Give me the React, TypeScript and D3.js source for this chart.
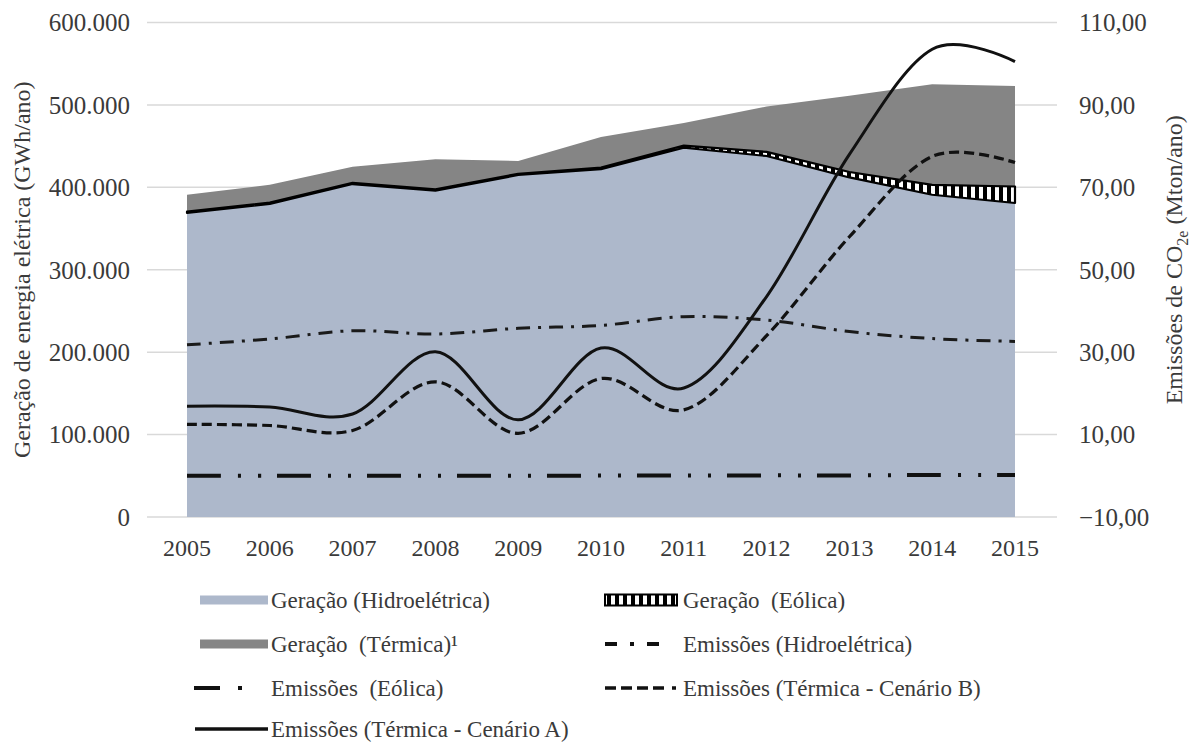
import React from "react";
import * as d3 from "d3";

const years = [2005, 2006, 2007, 2008, 2009, 2010, 2011, 2012, 2013, 2014, 2015];
// Geração (GWh/ano)
const genHidro = [369, 380, 404, 396, 415, 422, 448, 438, 412, 391, 381].map((v) => v * 1000);
const genEolica = [1.5, 1.5, 1.5, 1.5, 1.5, 2, 2.7, 5, 6.6, 12, 20].map((v) => v * 1000);
const genTermica = [20.5, 21.5, 19.5, 36.5, 15.5, 37, 27.3, 55, 92.4, 122, 122].map((v) => v * 1000);
// Emissões (Mton/ano)
const emiHidro = [31.8, 33.2, 35.2, 34.4, 35.8, 36.5, 38.6, 37.8, 35.0, 33.3, 32.6];
const emiEolica = [0.0, 0.0, 0.0, 0.0, 0.0, 0.05, 0.05, 0.1, 0.1, 0.2, 0.2];
const emiTermB = [12.5, 12.2, 11.0, 22.8, 10.3, 23.6, 16.0, 34.0, 58.0, 77.5, 76.0];
const emiTermA = [16.9, 16.7, 15.0, 30.1, 13.6, 31.0, 21.3, 43.5, 78.0, 103.5, 100.5];

const leftTicks = [0, 100000, 200000, 300000, 400000, 500000, 600000];
const rightTicks = [-10, 10, 30, 50, 70, 90, 110];

const leftTitle = "Geração de energia elétrica (GWh/ano)";
const legendItems = [
  { key: "gh", label: "Geração (Hidroelétrica)", col: 0, row: 0 },
  { key: "ge", label: "Geração  (Eólica)", col: 1, row: 0 },
  { key: "gt", label: "Geração  (Térmica)¹", col: 0, row: 1 },
  { key: "eh", label: "Emissões (Hidroelétrica)", col: 1, row: 1 },
  { key: "ee", label: "Emissões  (Eólica)", col: 0, row: 2 },
  { key: "eb", label: "Emissões (Térmica - Cenário B)", col: 1, row: 2 },
  { key: "ea", label: "Emissões (Térmica - Cenário A)", col: 0, row: 3 },
];

const HIDRO = "#adb8cb";
const TERM = "#858585";
const GRID = "#d9d9d9";
const TXT = "#3a3a3a";
const FONT = '"Liberation Serif", "DejaVu Serif", serif';

const DASH_HIDRO = "14 8 3 8";
const DASH_EOL = "34 17 3 17 3 16";
const DASH_B = "10 5";

export default function App() {
  const x = d3.scaleLinear().domain([2005, 2015]).range([187, 1015]);
  const yL = d3.scaleLinear().domain([0, 600000]).range([517, 22.5]);
  const yR = d3.scaleLinear().domain([-10, 110]).range([517, 22.5]);

  const rows = years.map((yr, i) => ({ year: yr, h: genHidro[i], e: genEolica[i], t: genTermica[i] }));
  const stack = d3.stack<any>().keys(["h", "e", "t"])(rows);
  const area = d3
    .area<any>()
    .x((d) => x(d.data.year))
    .y0((d) => yL(d[0]))
    .y1((d) => yL(d[1]));

  const line = (vals: number[]) =>
    d3
      .line<number>()
      .x((_, i) => x(years[i]))
      .y((v) => yR(v))
      .curve(d3.curveCardinal.tension(0))(vals) as string;

  const colX = [200, 605];
  const rowY = [600, 644, 688, 729];

  const legendSymbol = (key: string, x0: number, y0: number) => {
    switch (key) {
      case "gh":
        return <rect x={x0} y={y0 - 4.5} width={68} height={9} fill={HIDRO} />;
      case "gt":
        return <rect x={x0} y={y0 - 4.5} width={68} height={9} fill={TERM} />;
      case "ge":
        return (
          <rect x={x0} y={y0 - 5.5} width={72} height={11} fill="url(#eolPat)" stroke="#000" strokeWidth={2} />
        );
      case "eh":
        return (
          <line x1={x0} x2={x0 + 60} y1={y0} y2={y0} stroke="#111" strokeWidth={4} strokeDasharray="12 13 4 13" />
        );
      case "ee":
        return (
          <g>
            <line x1={x0 - 6} x2={x0 + 20} y1={y0} y2={y0} stroke="#111" strokeWidth={4} />
            <line x1={x0 + 38} x2={x0 + 42} y1={y0} y2={y0} stroke="#111" strokeWidth={4} />
          </g>
        );
      case "eb":
        return (
          <line x1={x0} x2={x0 + 76} y1={y0} y2={y0} stroke="#111" strokeWidth={3.5} strokeDasharray="11 5 11 5 11 5 11 8 4" />
        );
      case "ea":
        return <line x1={x0 - 5} x2={x0 + 68} y1={y0} y2={y0} stroke="#111" strokeWidth={3.5} />;
    }
    return null;
  };

  const textStyle: React.CSSProperties = { fontFamily: FONT };

  return (
    <svg
      width={1192}
      height={743}
      style={{ position: "absolute", left: 0, top: 0, background: "#fff", fontFamily: FONT }}
    >
      <defs>
        <pattern id="eolPat" patternUnits="userSpaceOnUse" width={8} height={10}>
          <rect x={0} y={0} width={8} height={10} fill="#000" />
          <rect x={3} y={0} width={4} height={10} fill="#fff" />
        </pattern>
      </defs>
      <rect x={0} y={0} width={1192} height={743} fill="#fff" />

      {/* gridlines */}
      {leftTicks.map((t) => (
        <line key={"g" + t} x1={147} x2={1057} y1={yL(t)} y2={yL(t)} stroke={GRID} strokeWidth={1.5} />
      ))}

      {/* stacked areas */}
      <path d={area(stack[0] as any) as string} fill={HIDRO} />
      <path d={area(stack[2] as any) as string} fill={TERM} />
      <path d={area(stack[1] as any) as string} fill="url(#eolPat)" stroke="#000" strokeWidth={2.2} strokeLinejoin="round" />

      {/* emission lines */}
      <path d={line(emiEolica)} fill="none" stroke="#111" strokeWidth={4} strokeDasharray={DASH_EOL} />
      <path d={line(emiHidro)} fill="none" stroke="#1a1a1a" strokeWidth={3} strokeDasharray={DASH_HIDRO} />
      <path d={line(emiTermB)} fill="none" stroke="#111" strokeWidth={3.2} strokeDasharray={DASH_B} />
      <path d={line(emiTermA)} fill="none" stroke="#111" strokeWidth={3} />

      {/* left tick labels */}
      {leftTicks.map((t) => (
        <text key={"l" + t} x={130} y={yL(t)} dy="0.35em" textAnchor="end" fontSize={25} fill={TXT} style={textStyle}>
          {d3.format(",")(t).replace(/,/g, ".")}
        </text>
      ))}
      {/* right tick labels */}
      {rightTicks.map((t) => (
        <text key={"r" + t} x={1079} y={yR(t)} dy="0.35em" textAnchor="start" fontSize={25} fill={TXT} style={textStyle}>
          {d3.format(".2f")(t).replace(".", ",")}
        </text>
      ))}
      {/* x tick labels */}
      {years.map((yr) => (
        <text key={"x" + yr} x={x(yr)} y={548} dy="0.35em" textAnchor="middle" fontSize={24} fill={TXT} style={textStyle}>
          {yr}
        </text>
      ))}

      {/* axis titles */}
      <text
        transform={`translate(22,${(22.5 + 517) / 2}) rotate(-90)`}
        textAnchor="middle"
        dy="0.35em"
        fontSize={24}
        fill={TXT}
        style={textStyle}
      >
        {leftTitle}
      </text>
      <text
        transform={`translate(1174,${(22.5 + 517) / 2 - 10}) rotate(-90)`}
        textAnchor="middle"
        dy="0.35em"
        fontSize={24}
        fill={TXT}
        style={textStyle}
      >
        Emissões de CO
        <tspan fontSize={16} dy="6">2e</tspan>
        <tspan dy="-6">{"  (Mton/ano)"}</tspan>
      </text>

      {/* legend */}
      {legendItems.map((it) => {
        const x0 = colX[it.col];
        const y0 = rowY[it.row];
        return (
          <g key={it.key}>
            {legendSymbol(it.key, x0, y0)}
            <text
              x={it.col === 0 ? 271 : 683}
              y={y0}
              dy="0.35em"
              fontSize={23}
              fill={TXT}
              style={{ whiteSpace: "pre", fontFamily: FONT }}
            >
              {it.label}
            </text>
          </g>
        );
      })}
    </svg>
  );
}
